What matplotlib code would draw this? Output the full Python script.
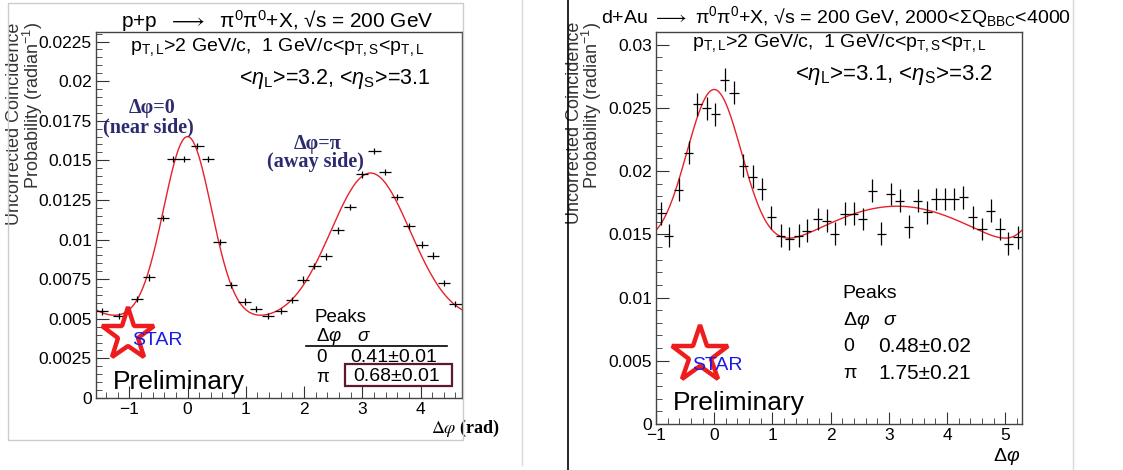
import numpy as np
import matplotlib
matplotlib.use('Agg')
import matplotlib.pyplot as plt
from matplotlib.lines import Line2D
from matplotlib.patches import Rectangle
from matplotlib.ticker import MultipleLocator, FormatStrFormatter

plt.rcParams['font.family'] = ['Liberation Sans', 'DejaVu Sans']
plt.rcParams['mathtext.fontset'] = 'custom'
plt.rcParams['mathtext.rm'] = 'Liberation Sans'
plt.rcParams['mathtext.it'] = 'Liberation Sans:italic'
plt.rcParams['mathtext.bf'] = 'Liberation Sans:bold'

# p+p correlation
pp_dphi = [-1.47, -1.18, -0.87, -0.66, -0.415, -0.245, -0.056, 0.17, 0.35, 0.55,
           0.75, 0.98, 1.18, 1.38, 1.61, 1.79, 1.98, 2.18, 2.38, 2.59,
           2.79, 2.99, 3.21, 3.39, 3.60, 3.80, 4.03, 4.22, 4.40, 4.60]
pp_prob = [0.00546, 0.00519, 0.00625, 0.00761, 0.01137, 0.0151, 0.0151, 0.0159, 0.0151, 0.00985,
           0.00715, 0.00608, 0.00563, 0.00519, 0.00551, 0.0062, 0.00747, 0.00835, 0.00894, 0.01058,
           0.01207, 0.01411, 0.0156, 0.01426, 0.01268, 0.01084, 0.00968, 0.00899, 0.00726, 0.00595]
pp_xerr = 0.105
pp_yerr = 0.0002
pp_sigma = (0.41, 0.68)
pp_fit = (0.00492, 0.01158, 0.00928)   # pedestal, near amp, away amp

# d+Au correlation
dau_dphi = [-0.91, -0.78, -0.61, -0.44, -0.29, -0.13, 0.02, 0.18, 0.34, 0.50,
            0.66, 0.82, 0.98, 1.14, 1.29, 1.45, 1.59, 1.78, 1.93, 2.07,
            2.24, 2.40, 2.55, 2.72, 2.87, 3.03, 3.19, 3.34, 3.50, 3.66,
            3.81, 3.97, 4.12, 4.28, 4.44, 4.60, 4.75, 4.91, 5.05, 5.22]
dau_prob = [0.01666, 0.0149, 0.01853, 0.02147, 0.02529, 0.02497, 0.0245, 0.02723, 0.02621, 0.02043,
            0.01956, 0.01859, 0.01635, 0.0149, 0.01464, 0.0149, 0.0153, 0.01622, 0.01609, 0.01504,
            0.01662, 0.01662, 0.01622, 0.01845, 0.01504, 0.01819, 0.01767, 0.01561, 0.01767, 0.01675,
            0.0178, 0.0178, 0.0178, 0.01793, 0.01635, 0.01543, 0.01688, 0.01543, 0.01425, 0.01477]
dau_xerr = 0.0785
dau_yerr = 0.0009
dau_sigma = (0.48, 1.75)
dau_fit = (0.0098, 0.0137, 0.0074)


def gauss_fit(x, pedestal, a_near, a_away, s_near, s_away):
    y = np.full_like(x, pedestal)
    for k in (-1, 0, 1):
        y += a_near * np.exp(-(x - 2 * np.pi * k) ** 2 / (2 * s_near ** 2))
        y += a_away * np.exp(-(x - np.pi - 2 * np.pi * k) ** 2 / (2 * s_away ** 2))
    return y


def style_axes(ax, ymajor):
    ax.xaxis.set_major_locator(MultipleLocator(1))
    ax.xaxis.set_minor_locator(MultipleLocator(0.2))
    ax.yaxis.set_major_locator(MultipleLocator(ymajor))
    ax.yaxis.set_minor_locator(MultipleLocator(ymajor / 5))
    ax.yaxis.set_major_formatter(FormatStrFormatter('%g'))
    ax.tick_params(which='both', direction='in', top=False, right=False,
                   labelsize=12.5, color='#333333')
    ax.tick_params(which='major', length=9, pad=3)
    ax.tick_params(which='minor', length=4.5)
    for s in ax.spines.values():
        s.set_color('#444444')
        s.set_linewidth(1.0)


def star_logo(ax, x, y, size):
    ax.plot(x, y, marker='*', ms=size, mfc='none', mec='#ee1c1c', mew=3.2,
            transform=ax.transAxes, clip_on=False)


fig = plt.figure(figsize=(11.23, 4.70), dpi=100)

# panel frames
fig.add_artist(Rectangle((0.0071, 0.0638), 0.4052, 0.9298, transform=fig.transFigure,
                         fill=False, ec='#cccccc', lw=1.0))
fig.add_artist(Line2D([0.4648, 0.4648], [0.01, 1.0], transform=fig.transFigure,
                      color='#d8d8d8', lw=1.0))
fig.add_artist(Line2D([0.5058, 0.5058], [0.0, 1.0], transform=fig.transFigure,
                      color='black', lw=1.2))
fig.add_artist(Line2D([0.9555, 0.9555], [0.0, 1.0], transform=fig.transFigure,
                      color='#d8d8d8', lw=1.0))

ylabel = 'Uncorrected Coincidence\nProbability (radian$^{-1}$)'
pt_cut = r'p$_{\rm T,L}$>2 GeV/c,  1 GeV/c<p$_{\rm T,S}$<p$_{\rm T,L}$'

# ---- left: p+p ----
ax1 = fig.add_axes([0.0855, 0.1532, 0.3259, 0.7787])
xs = np.linspace(-np.pi / 2, 3 * np.pi / 2, 400)
ax1.plot(xs, gauss_fit(xs, *pp_fit, *pp_sigma), color='#e8202a', lw=1.0)
ax1.errorbar(pp_dphi, pp_prob, xerr=pp_xerr, yerr=pp_yerr, fmt='none',
             ecolor='black', elinewidth=0.9, capsize=0)
ax1.set_xlim(-np.pi / 2, 3 * np.pi / 2)
ax1.set_ylim(0, 0.0231)
style_axes(ax1, 0.0025)

fig.text(0.2467, 0.955, r'p+p  $\longrightarrow$  π$^{0}$π$^{0}$+X, √s = 200 GeV',
         ha='center', va='center', fontsize=15)
ax1.text(-0.193, 1.027, ylabel, rotation=90, ha='center', va='top', multialignment='right',
         fontsize=13, color='#333333', linespacing=0.85, transform=ax1.transAxes)
ax1.text(1.104, -0.082, r'$\Delta\varphi$ (rad)', ha='right', va='center', fontsize=13,
         family='Liberation Serif', weight='bold', math_fontfamily='stix',
         transform=ax1.transAxes)
ax1.text(0.093, 0.959, pt_cut, ha='left', va='center', fontsize=14, transform=ax1.transAxes)
ax1.text(0.913, 0.872, r'<$\eta_{\rm L}$>=3.2, <$\eta_{\rm S}$>=3.1',
         ha='right', va='center', fontsize=15.5, transform=ax1.transAxes)

navy = '#2b2b6e'
for tx, ty, s in [(0.153, 0.791, 'Δφ=0'), (0.142, 0.739, '(near side)'),
                  (0.605, 0.693, 'Δφ=π'), (0.600, 0.645, '(away side)')]:
    ax1.text(tx, ty, s, ha='center', va='center', fontsize=14.5, color=navy,
             family='Liberation Serif', weight='bold', transform=ax1.transAxes)

star_logo(ax1, 0.087, 0.172, 40)
ax1.text(0.098, 0.156, 'STAR', ha='left', va='center', fontsize=14, color='#1a1ae6',
         transform=ax1.transAxes)
ax1.text(0.046, 0.044, 'Preliminary', ha='left', va='center', fontsize=19,
         transform=ax1.transAxes)

ax1.text(0.598, 0.219, 'Peaks', ha='left', va='center', fontsize=13.5, transform=ax1.transAxes)
ax1.text(0.601, 0.169, r'$\Delta\varphi$', ha='left', va='center', fontsize=13.5,
         transform=ax1.transAxes)
ax1.text(0.712, 0.169, r'$\sigma$', ha='left', va='center', fontsize=13.5,
         transform=ax1.transAxes)
ax1.add_line(Line2D([0.574, 0.959], [0.142, 0.142], color='black', lw=1.2,
                    transform=ax1.transAxes))
ax1.text(0.601, 0.112, '0', ha='left', va='center', fontsize=13.5, transform=ax1.transAxes)
ax1.text(0.694, 0.112, '0.41±0.01', ha='left', va='center', fontsize=14, transform=ax1.transAxes)
ax1.text(0.601, 0.055, 'π', ha='left', va='center', fontsize=13.5, transform=ax1.transAxes)
ax1.text(0.702, 0.058, '0.68±0.01', ha='left', va='center', fontsize=14, transform=ax1.transAxes)
ax1.add_patch(Rectangle((0.680, 0.033), 0.293, 0.060, fill=False, ec='#5a1a30', lw=1.6,
                        transform=ax1.transAxes, clip_on=False))

# ---- right: d+Au ----
ax2 = fig.add_axes([0.5841, 0.0979, 0.3257, 0.834])
xs = np.linspace(-1, -1 + 2 * np.pi, 400)
ax2.plot(xs, gauss_fit(xs, *dau_fit, *dau_sigma), color='#e8202a', lw=1.0)
ax2.errorbar(dau_dphi, dau_prob, xerr=dau_xerr, yerr=dau_yerr, fmt='none',
             ecolor='black', elinewidth=0.9, capsize=0)
ax2.set_xlim(-1, -1 + 2 * np.pi)
ax2.set_ylim(0, 0.031)
style_axes(ax2, 0.005)

fig.text(0.7445, 0.963,
         r'd+Au $\longrightarrow$ π$^{0}$π$^{0}$+X, √s = 200 GeV, 2000<ΣQ$_{\rm BBC}$<4000',
         ha='center', va='center', fontsize=14)
ax2.text(-0.194, 1.026, ylabel, rotation=90, ha='center', va='top', multialignment='right',
         fontsize=13, color='#333333', linespacing=0.85, transform=ax2.transAxes)
ax2.text(0.995, -0.084, r'$\Delta\varphi$', ha='right', va='center', fontsize=14,
         transform=ax2.transAxes)
ax2.text(0.098, 0.972, pt_cut, ha='left', va='center', fontsize=14, transform=ax2.transAxes)
ax2.text(0.922, 0.890, r'<$\eta_{\rm L}$>=3.1, <$\eta_{\rm S}$>=3.2',
         ha='right', va='center', fontsize=16, transform=ax2.transAxes)

star_logo(ax2, 0.120, 0.176, 43)
ax2.text(0.098, 0.150, 'STAR', ha='left', va='center', fontsize=14, color='#1a1ae6',
         transform=ax2.transAxes)
ax2.text(0.046, 0.054, 'Preliminary', ha='left', va='center', fontsize=19,
         transform=ax2.transAxes)

ax2.text(0.511, 0.334, 'Peaks', ha='left', va='center', fontsize=14, transform=ax2.transAxes)
ax2.text(0.511, 0.265, r'$\Delta\varphi$', ha='left', va='center', fontsize=14,
         transform=ax2.transAxes)
ax2.text(0.621, 0.265, r'$\sigma$', ha='left', va='center', fontsize=14, transform=ax2.transAxes)
ax2.text(0.511, 0.197, '0', ha='left', va='center', fontsize=14, transform=ax2.transAxes)
ax2.text(0.607, 0.197, '0.48±0.02', ha='left', va='center', fontsize=15, transform=ax2.transAxes)
ax2.text(0.511, 0.130, 'π', ha='left', va='center', fontsize=14, transform=ax2.transAxes)
ax2.text(0.607, 0.130, '1.75±0.21', ha='left', va='center', fontsize=15, transform=ax2.transAxes)

fig.savefig('out.png', dpi=100)
